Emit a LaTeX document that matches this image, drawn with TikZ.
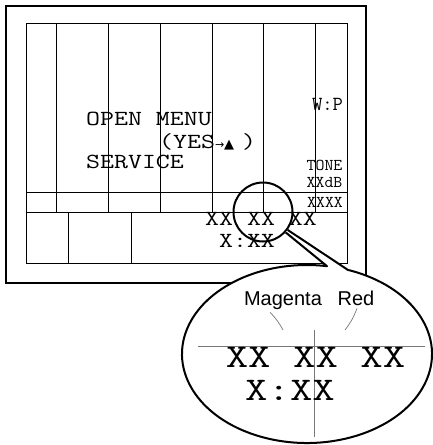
\documentclass[tikz,border=0pt]{standalone}
\usepackage{fontspec}
\usepackage{graphicx}
\setsansfont{Liberation Sans}
\newfontfamily\symfont{DejaVu Sans}
\definecolor{hairgray}{RGB}{120, 120, 120}
\newcommand{\widen}[2][1.26]{\scalebox{#1}[1]{#2}}
\usetikzlibrary{calc}

\begin{document}
\begin{tikzpicture}[x=1pt, y=-1pt,
    every node/.style={inner sep=0pt},
    frame/.style={draw=black, line width=2pt},
    grid/.style={draw=black, line width=0.9pt},
    lcd/.style={font=\ttfamily\fontsize{21.5}{21.5}\selectfont, anchor=base},
    lcdsmall/.style={font=\ttfamily\fontsize{16.5}{16.5}\selectfont, anchor=base},
    lcdbig/.style={font=\ttfamily\fontsize{33}{33}\selectfont, anchor=base},
    lens/.style={circle, draw=black, line width=2pt, minimum size=59pt},
    bubble/.style={draw=black, fill=white, line width=2pt, line join=round},
    hair/.style={draw=hairgray, line width=1pt},
    tag/.style={font=\sffamily\fontsize{20}{20}\selectfont, anchor=base}
  ]
  \useasboundingbox (0,0) rectangle (433,445);

  \draw[frame] (6,6) rectangle (366,283);
  \draw[grid] (26,23) rectangle (347,263);
  \draw[grid] (26,192) -- (347,192);
  \draw[grid] (26,212) -- (347,212);
  \foreach \x in {56,108,160,212,263,315}
    \draw[grid] (\x,23) -- (\x,212);
  \foreach \x in {68,131}
    \draw[grid] (\x,212) -- (\x,263);

  \node[lcd, anchor=base west] (open) at (86,125) {\widen{OPEN MENU}};
  \node[lcd, anchor=base west] (yes) at (159,148) {\widen{(YES}{\symfont\fontsize{11}{11}\selectfont →\fontsize{13}{13}\selectfont ▲}\hspace{8pt}\widen{)}};
  \node[lcd, anchor=base west] (service) at (86,168) {\widen{SERVICE}};
  \node[lcdsmall, font=\ttfamily\fontsize{20}{20}\selectfont] (wp) at (327.5,110) {W:P};
  \node[lcdsmall] (tone) at (324.5,170) {\widen[1.05]{TONE}};
  \node[lcdsmall] (level) at (324.5,187) {\widen[1.05]{XXdB}};
  \node[lcdsmall] (code) at (325,207) {\widen[1.05]{XXXX}};
  \node[lcd] (row) at (261,225) {\widen{XX XX XX}};
  \node[lcd] (time) at (247,247) {\widen{X:XX}};

  \node[lens] (lens) at (263,212) {};

  \coordinate (zc) at (307,354);
  \coordinate (zb) at ($(zc)+(-70.9:125 and 89)$);
  \filldraw[bubble] (lens.-36) -- (zb)
    arc[start angle=-70.9, end angle=279.2, x radius=125, y radius=89]
    -- (lens.-42);

  \draw[hair] (198,346) -- (425,346);
  \draw[hair] (314,330) -- (314,437);
  \node[lcdbig] (bigrow) at (315.5,367) {\widen[1.32]{XX XX XX}};
  \node[lcdbig] (bigtime) at (290,400) {\widen[1.32]{X:XX}};

  \node[tag] (mag) at (283,305) {Magenta};
  \node[tag] (red) at (356,305) {Red};
  \coordinate (magtip) at (283,330);
  \coordinate (redtip) at (345,330);
  \draw[hair, line width=0.7pt] ([xshift=-13pt,yshift=-3pt]mag.south) to[bend left=8] (magtip);
  \draw[hair, line width=0.7pt] ([xshift=1pt,yshift=-3pt]red.south) to[bend left=8] (redtip);
\end{tikzpicture}
\end{document}
